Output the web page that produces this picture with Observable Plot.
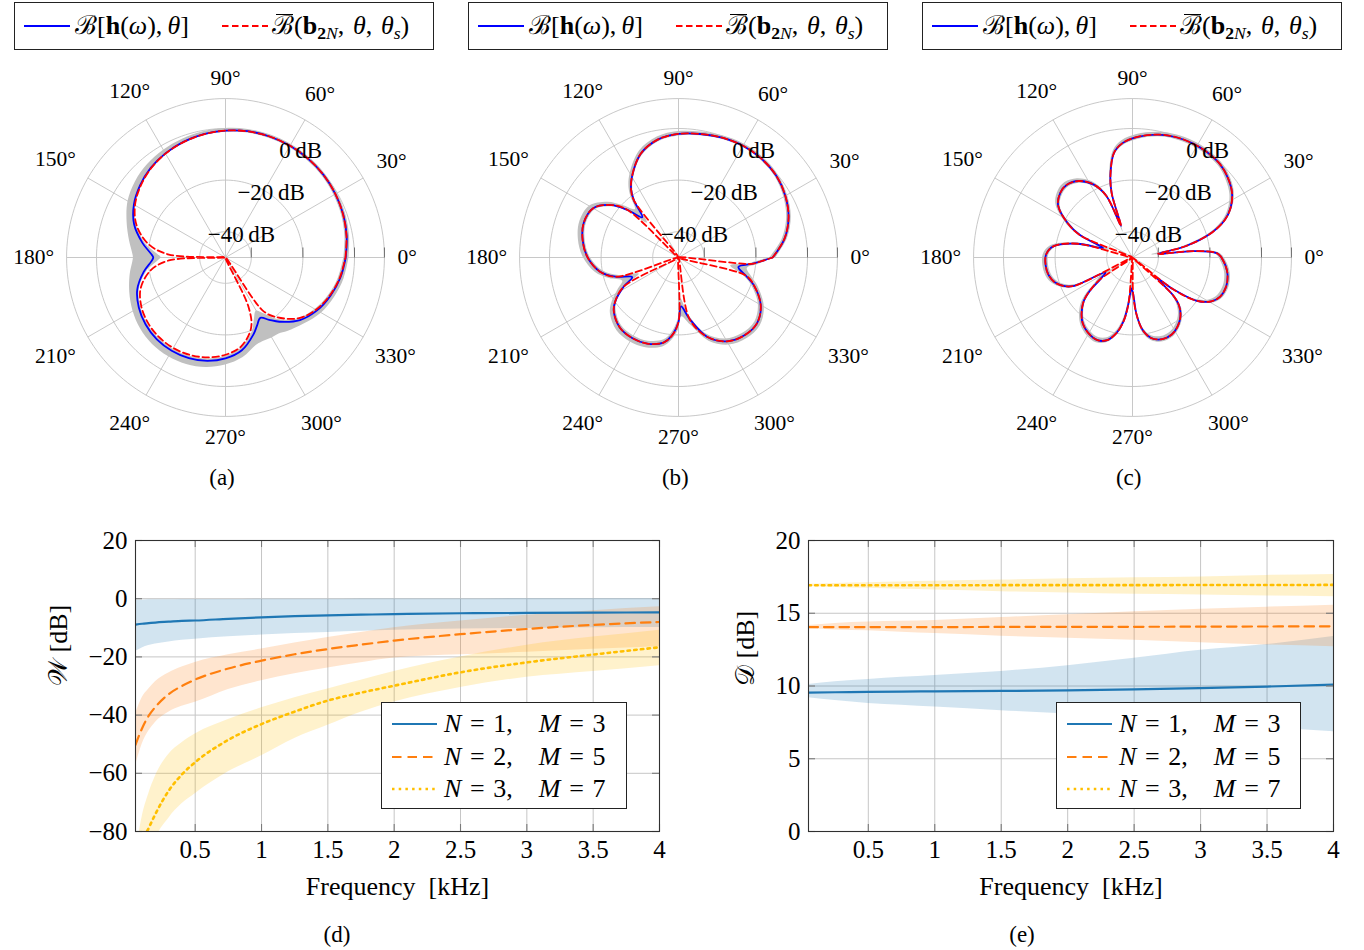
<!DOCTYPE html>
<html><head><meta charset="utf-8">
<script src="https://cdn.jsdelivr.net/npm/d3@7"></script>
<script src="https://cdn.jsdelivr.net/npm/@observablehq/plot@0.6"></script>
<style>
body{margin:0;background:#fff;}
#page{position:relative;width:1364px;height:950px;overflow:hidden;font-family:'Liberation Serif','Times New Roman',serif;color:#000;background:#fff;}
.leg{position:absolute;border:1.3px solid #222;background:#fff;box-sizing:border-box;}
.lt{position:absolute;font-size:26px;white-space:nowrap;line-height:26px;}
.cap{position:absolute;font-size:23px;line-height:26px;transform:translateX(-50%);white-space:nowrap;}
.bar{position:relative;display:inline-block;}
.bar::after{content:"";position:absolute;left:4px;right:1px;top:1px;border-top:1.4px solid #000;}
sub{font-size:0.68em;vertical-align:-0.28em;line-height:0;}
.smp{position:absolute;}
</style></head><body><div id="page"></div>
<script>
// ---------------- DATA ----------------
// Polar beampatterns (angle in degrees, level in dB)
const anglesA = [0,10,20,30,40,50,60,70,80,90,100,110,120,130,140,150,160,170,177,180,183,190,200,210,220,230,240,250,260,270,280,290,295,300,305,310,320,330,340,350];
const blueA = [-3.4,-2.3,-1.4,-0.8,-0.3,-0.1,0,-0.1,-0.3,-0.8, -1.4,-2.3,-3.4,-4.8,-6.7,-9.0,-12.3,-17.3,-21,-22, -21.2,-17.8,-13.6,-11.2,-9.6,-8.6,-8.3,-8.5,-9.3,-10.9, -13.5,-18.3,-21,-23,-20.5,-17.5,-12.3,-9.0,-6.7,-4.8];
const redA = [-3.5,-2.4,-1.5,-0.8,-0.35,-0.1,0,-0.1,-0.35,-0.8, -1.5,-2.4,-3.5,-5.0,-7.0,-9.5,-13.3,-19.6,-28,-50, -28,-20.4,-15.0,-12.3,-10.7,-9.8,-9.5,-9.8,-10.7,-12.3, -15.0,-21,-29,-50,-25,-20,-13.3,-9.5,-7.0,-5.0];
const hiA = [-2.1,-1.2,-0.5,0.0,0.4,0.6,0.7,0.6,0.4,0.0, -0.5,-1.2,-2.0,-3.0,-4.4,-6.4,-9.4,-12.2,-13.9,-14.3, -14.0,-12.5,-10.5,-8.6,-7.0,-6.0,-5.7,-5.9,-6.7,-8.3, -10.6,-14,-14.3,-14,-13.8,-12.5,-10,-7.0,-5.0,-3.3];
const loA = [-4.1,-3.0,-2.1,-1.5,-1.0,-0.8,-0.7,-0.8,-1.0,-1.5, -2.1,-3.0,-4.1,-5.5,-7.4,-9.8,-13.2,-18.5,-23.5,-25, -23.8,-19,-14.5,-12,-10.4,-9.4,-9.1,-9.3,-10.1,-11.7, -14.4,-19.5,-23.5,-26,-23,-18.6,-13.1,-9.8,-7.4,-5.5];

const anglesB = [0,10,20,30,40,50,60,70,80,90,100,110,120,125,128,132,137,142,150,160,170,180,190,197,203,208,215,220,230,240,250,260,265,270,273,280,290,300,310,320,330,340,345,351,355,357];
const blueB = [-13.5,-8.3,-4.6,-2.2,-0.6,0,0,-0.6,-1.4,-2.1, -3.6,-7.2,-13.9,-18,-22,-29,-23,-17,-11.8,-10.9, -12.3,-14.8,-19,-24.5,-30.5,-26,-20,-17.3,-14.6,-14.0, -14.5,-16.5,-19.5,-25,-31,-26,-17.2,-12.5,-10.5,-10.3, -13.2,-19.0,-23,-26.5,-21.5,-18.5];
const redB = [-13.5,-8.3,-4.6,-2.2,-0.6,0,0,-0.6,-1.4,-2.1, -3.6,-7.2,-13.9,-18,-22,-50,-23,-17,-11.8,-10.9, -12.3,-14.8,-19,-24.5,-50,-26,-20,-17.3,-14.6,-14.0, -14.5,-16.5,-19.5,-25,-50,-26,-17.2,-12.5,-10.5,-10.3, -13.2,-19.0,-23,-50,-21.5,-18.5];
const hiB = [-12.2,-7.1,-3.5,-1.3,0.2,0.8,0.8,0.2,-0.6,-1.2, -2.6,-6.0,-12.5,-16.5,-20,-25,-20.5,-15.2,-10.2,-9.3, -10.6,-13.1,-17.2,-22,-26.5,-23.5,-18.2,-15.6,-12.9,-12.3, -12.8,-14.8,-17.5,-22,-27,-23.5,-15.5,-10.8,-8.9,-8.7, -11.6,-17.2,-20.5,-23,-19,-16.8];
const loB = [-14.5,-9.2,-5.4,-2.9,-1.2,-0.6,-0.6,-1.2,-2.1,-2.9, -4.5,-8.2,-15,-19.3,-23.5,-32,-24.5,-18.2,-12.8,-11.9, -13.3,-15.8,-20.2,-26,-33.5,-27.5,-21.2,-18.4,-15.6,-15.0, -15.5,-17.6,-20.8,-26.5,-34,-27.5,-18.4,-13.5,-11.5,-11.3, -14.3,-20.3,-24.5,-29.5,-22.5,-19.8];

const anglesC = [0,3,6,8,12,17,22,27,33,40, 47,55,62,70,78,88,95,100,105,108, 110,113,118,125,132,138,145,152,157,162, 166,172,178,185,192,198,203,206,209,214, 218,222,228,233,240,247,253,258,262,265, 268,271,274,278,283,290,297,303,309,314, 317,320,322,326,331,336,343,350,355];
const blueC = [-15.5,-17.3,-26,-40,-29,-18.5,-11.5,-7.3,-4.0,-1.8, -0.4,0,0,-0.4,-1.3,-3.3,-5.5,-8.8,-17,-24, -37,-24,-18,-13.8,-12,-12.4,-14.8,-21.5,-28,-38, -28,-19,-16.5,-16.2,-16.8,-18.5,-21.5,-25,-38,-35, -29,-24.5,-20.5,-18,-16,-15.2,-16.5,-20,-25,-32, -38,-36,-28,-21.6,-18,-16.3,-16.5,-18,-20.5,-24, -28.5,-38,-30,-20,-15,-12.8,-12,-12.6,-13.8];
const redC = [-15.5,-17.3,-26,-40,-29,-18.5,-11.5,-7.3,-4.0,-1.8, -0.4,0,0,-0.4,-1.3,-3.3,-5.5,-8.8,-17,-24, -37,-24,-18,-13.8,-12,-12.4,-14.8,-21.5,-28,-50, -28,-19,-16.5,-16.2,-16.8,-18.5,-21.5,-25,-50,-35, -29,-24.5,-20.5,-18,-16,-15.2,-16.5,-20,-25,-32, -50,-36,-28,-21.6,-18,-16.3,-16.5,-18,-20.5,-24, -28.5,-50,-30,-20,-15,-12.8,-12,-12.6,-13.8];
const hiC = [-14.5,-16.3,-24.5,-37.5,-27.5,-17.5,-10.5,-6.3,-3.0,-0.8, 0.5,0.9,0.9,0.5,-0.4,-2.3,-4.5,-7.8,-15.8,-22.5, -34.5,-22.5,-16.8,-12.7,-10.9,-11.3,-13.7,-20.2,-26.5,-35.5, -26.5,-17.8,-15.4,-15.1,-15.7,-17.4,-20.3,-23.5,-35.5,-33, -27.5,-23.2,-19.3,-16.9,-14.9,-14.1,-15.4,-18.8,-23.5,-30, -35.5,-34,-26.5,-20.4,-16.9,-15.2,-15.4,-16.9,-19.3,-22.5, -27,-35.5,-28.5,-18.8,-13.9,-11.7,-10.9,-11.5,-12.7];
const loC = [-16.5,-18.3,-27.5,-42.5,-30.5,-19.5,-12.5,-8.3,-5.0,-2.8, -1.3,-0.9,-0.9,-1.3,-2.2,-4.3,-6.5,-9.8,-18.2,-25.5, -39.5,-25.5,-19.2,-14.9,-13.1,-13.5,-15.9,-22.8,-29.5,-40.5, -29.5,-20.2,-17.6,-17.3,-17.9,-19.6,-22.7,-26.5,-40.5,-37, -30.5,-25.8,-21.7,-19.1,-17.1,-16.3,-17.6,-21.2,-26.5,-34, -40.5,-38,-29.5,-22.8,-19.1,-17.4,-17.6,-19.1,-21.7,-25.5, -30,-40.5,-31.5,-21.2,-16.1,-13.9,-13.1,-13.7,-14.9];

const polarRingLevels = [-40, -20, 0];
const polarRingLabels = ["\u221240\u2009dB", "\u221220\u2009dB", "0\u2009dB"];
const polarOuterLevel = 11.6;
const polarAngleTicks = [0,30,60,90,120,150,180,210,240,270,300,330];

// (d) White-noise gain W [dB] vs frequency [kHz]
const freqD = [0.05,0.1,0.15,0.2,0.3,0.4,0.5,0.75,1,1.25,1.5,1.75,2,2.5,3,3.5,4];
const wN1 = [-8.9,-8.6,-8.4,-8.2,-7.9,-7.6,-7.5,-6.9,-6.4,-6.0,-5.7,-5.5,-5.3,-5.0,-4.9,-4.8,-4.7];
const wN1lo = [-18.1,-16.9,-16.1,-15.6,-14.9,-14.3,-13.9,-13.1,-12.5,-12.0,-11.6,-11.2,-10.8,-10.4,-10.2,-10.0,-9.9];
const wN1hi = [-0.5,-0.5,-0.4,-0.4,-0.4,-0.3,-0.3,-0.3,-0.2,-0.2,-0.2,-0.1,-0.1,-0.1,0,0,0];
const wN2 = [-50.2,-44.5,-40.2,-37.2,-32.8,-30,-27.8,-24,-21.3,-19.1,-17.3,-15.8,-14.4,-12.2,-10.4,-9.0,-8.0];
const wN2lo = [-57.4,-50,-45.5,-42.5,-39,-37,-35.6,-31.2,-28.2,-25.8,-23.8,-22,-20.4,-19.3,-18.4,-17.4,-16.5];
const wN2hi = [-39.6,-34,-31,-28.5,-25.5,-23.5,-21.9,-19.3,-17.3,-15.2,-13.3,-11.6,-10.0,-7.7,-5.7,-4.1,-2.8];
const wN3 = [-100,-84,-78.8,-74,-66,-60.4,-56.2,-48.5,-43.1,-38.8,-35,-32.3,-29.9,-25.3,-21.9,-19.2,-16.7];
const wN3lo = [-112,-100,-91,-83,-75.5,-70.5,-67,-59.5,-54,-48,-43.5,-39,-35.5,-30.5,-27,-25,-23];
const wN3hi = [-88,-75,-67,-61,-53.5,-49.5,-46.5,-41.5,-37.5,-34,-31,-28,-25,-20,-16,-13.2,-10.8];

// (e) Directivity D [dB] vs frequency [kHz]
const freqE = [0.05,0.25,0.5,0.75,1,1.5,2,2.5,3,3.5,4];
const dN1 = [9.55,9.57,9.6,9.62,9.63,9.66,9.7,9.77,9.86,9.96,10.1];
const dN1lo = [9.2,9.0,8.8,8.67,8.55,8.3,8.08,7.8,7.5,7.15,6.85];
const dN1hi = [10.1,10.3,10.45,10.6,10.73,11.0,11.4,11.9,12.45,12.85,13.4];
const dN2 = [14.05,14.05,14.05,14.05,14.05,14.06,14.07,14.07,14.08,14.09,14.1];
const dN2lo = [13.95,13.85,13.8,13.7,13.6,13.42,13.28,13.15,12.97,12.82,12.7];
const dN2hi = [14.15,14.3,14.4,14.45,14.5,14.7,14.9,15.1,15.28,15.42,15.55];
const dN3 = [16.92,16.92,16.92,16.92,16.92,16.93,16.93,16.93,16.94,16.94,16.95];
const dN3lo = [16.83,16.77,16.71,16.65,16.6,16.48,16.39,16.3,16.26,16.19,16.14];
const dN3hi = [16.99,17.05,17.1,17.15,17.2,17.28,17.37,17.44,17.5,17.6,17.67];

const freqTicks = [0.5,1,1.5,2,2.5,3,3.5,4];
const wTicks = [-80,-60,-40,-20,0,20];
const dTicks = [0,5,10,15,20];
const seriesNames = ["N = 1,  M = 3", "N = 2,  M = 5", "N = 3,  M = 7"];

// ---------------- DRAWING ----------------
const FONT = "'Liberation Serif','Times New Roman',serif";
const page = document.getElementById("page");
function place(node, left, top) {
  const d = document.createElement("div");
  d.style.cssText = `position:absolute;left:${left}px;top:${top}px;`;
  d.appendChild(node);
  page.appendChild(d);
  return d;
}
function html(str) { const d = document.createElement("div"); d.innerHTML = str; page.appendChild(d); }

const K = 2.58;                 // px per dB on polar axes
const RMAX = polarOuterLevel + 50;
const rad = a => a * Math.PI / 180;
const circ = d3.range(0, 360.1, 2);

function angleLabelPos(a) {
  const t = rad(a), c = Math.cos(t), s = Math.sin(t);
  const w = String(a).length * 10.3 + 13, h = 19;
  const dist = RMAX * K + 4 + (w / 2 + 7) * Math.abs(c) + (h / 2 + 7) * Math.abs(s);
  return [dist * c / K, dist * s / K];
}

function polar(angles, blue, red, lo, hi) {
  const rows = angles.map((a, i) => ({a, b: blue[i], r: red[i], lo: lo[i], hi: hi[i]}));
  rows.push({...rows[0], a: rows[0].a + 360});
  const X = (a, v) => Math.max(0, v + 50) * Math.cos(rad(a));
  const Y = (a, v) => Math.max(0, v + 50) * Math.sin(rad(a));
  const rings = [...polarRingLevels.map(l => l + 50), RMAX];
  const grid = "#c2c2c2";
  return Plot.plot({
    width: 440, height: 400, margin: 0,
    style: {fontFamily: FONT, background: "transparent", color: "#000", overflow: "visible"},
    x: {domain: [-220 / K, 220 / K], axis: null},
    y: {domain: [-200 / K, 200 / K], axis: null},
    marks: [
      ...rings.map(rr => Plot.line(circ, {x: t => rr * Math.cos(rad(t)), y: t => rr * Math.sin(rad(t)), stroke: grid, strokeWidth: 0.9})),
      Plot.link(polarAngleTicks, {x1: () => 0, y1: () => 0, x2: t => RMAX * Math.cos(rad(t)), y2: t => RMAX * Math.sin(rad(t)), stroke: grid, strokeWidth: 0.9}),
      Plot.link(rings, {x1: d => d, y1: () => 0, x2: d => d, y2: () => 10 / K, stroke: "#6e6e6e", strokeWidth: 1}),
      Plot.area(rows, {x1: d => X(d.a, d.lo), y1: d => Y(d.a, d.lo), x2: d => X(d.a, d.hi), y2: d => Y(d.a, d.hi), fill: "#c0c0c0", curve: "catmull-rom"}),
      Plot.line(rows, {x: d => X(d.a, d.b), y: d => Y(d.a, d.b), stroke: "#0000ff", strokeWidth: 1.8, curve: "catmull-rom"}),
      Plot.line(rows, {x: d => X(d.a, d.r), y: d => Y(d.a, d.r), stroke: "#ff0000", strokeWidth: 1.8, strokeDasharray: "6.5,3.5", curve: "catmull-rom"}),
      Plot.text(polarRingLevels, {x: l => (l + 50.8) * Math.cos(rad(55)), y: l => (l + 50.8) * Math.sin(rad(55)), text: (l, i) => polarRingLabels[i], fontSize: 23, fontFamily: FONT}),
      Plot.text(polarAngleTicks, {x: a => angleLabelPos(a)[0], y: a => angleLabelPos(a)[1], text: a => a + "\u00b0", fontSize: 21.5, fontFamily: FONT})
    ]
  });
}

const polarCenters = [[225, 257.3], [678.3, 257.3], [1131.7, 257.3]];
const polarData = [[anglesA, blueA, redA, loA, hiA], [anglesB, blueB, redB, loB, hiB], [anglesC, blueC, redC, loC, hiC]];
const captions = ["(a)", "(b)", "(c)"];
const legendLefts = [14, 468, 922];
polarData.forEach((p, i) => {
  const [cx, cy] = polarCenters[i];
  place(polar(...p), cx - 220, cy - 200);
  const L = legendLefts[i];
  html(`<div class="leg" style="left:${L}px;top:2px;width:420px;height:48px;">
    <svg class="smp" style="left:9px;top:19px" width="46" height="8"><line x1="0" y1="4" x2="46" y2="4" stroke="#0000ff" stroke-width="1.8"/></svg>
    <div class="lt" style="left:60px;top:10px;"><span class="cal">\u212C</span>[<b>h</b>(<i>\u03c9</i>),\u2009<i>\u03b8</i>]</div>
    <svg class="smp" style="left:207px;top:19px" width="46" height="8"><line x1="0" y1="4" x2="46" y2="4" stroke="#ff0000" stroke-width="1.8" stroke-dasharray="6.5,3.5"/></svg>
    <div class="lt" style="left:257px;top:10px;"><span class="bar">\u212C</span>(<b>b</b><sub><b>2</b><i>N</i></sub>,\u2004<i>\u03b8</i>,\u2004<i>\u03b8</i><sub><i>s</i></sub>)</div>
  </div>`);
  html(`<div class="cap" style="left:${cx - 3}px;top:465px;">${captions[i]}</div>`);
});

const fmt = d => d < 0 ? "\u2212" + Math.abs(d) : String(d);
const colors = ["#1f77b4", "#ff7f0e", "#ffbf00"];
const dashes = [null, "9.5,6", "2.5,4.2"];
const widths = [2.2, 2.2, 2.6];

function linePlot({freq, lines, los, his, yDomain, yTicks, ylabel, width, ml, mr, labelDx}) {
  const x0 = 0.05, x1 = 4;
  const tickX = 7 / ((width - ml - mr) / (x1 - x0));
  const tickY = 7 / (291 / (yDomain[1] - yDomain[0]));
  const marks = [
    Plot.gridX(freqTicks, {stroke: "#c6c6c6", strokeOpacity: 1, strokeWidth: 1}),
    Plot.gridY(yTicks, {stroke: "#c6c6c6", strokeOpacity: 1, strokeWidth: 1})
  ];
  lines.forEach((ln, k) => {
    marks.push(Plot.areaY(freq, {x: d => d, y1: (d, i) => los[k][i], y2: (d, i) => his[k][i], fill: colors[k], fillOpacity: 0.2, curve: "monotone-x", clip: true}));
  });
  lines.forEach((ln, k) => {
    marks.push(Plot.lineY(freq, {x: d => d, y: (d, i) => ln[i], stroke: colors[k], strokeWidth: widths[k], strokeDasharray: dashes[k] || undefined, curve: "monotone-x", clip: true}));
  });
  marks.push(
    Plot.ruleY(yTicks, {y: d => d, x1: () => x0, x2: () => x0 + tickX, stroke: "#7a7a7a", strokeWidth: 1.1}),
    Plot.ruleY(yTicks, {y: d => d, x1: () => x1 - tickX, x2: () => x1, stroke: "#7a7a7a", strokeWidth: 1.1}),
    Plot.ruleX(freqTicks, {x: d => d, y1: () => yDomain[0], y2: () => yDomain[0] + tickY, stroke: "#7a7a7a", strokeWidth: 1.1}),
    Plot.ruleX(freqTicks, {x: d => d, y1: () => yDomain[1] - tickY, y2: () => yDomain[1], stroke: "#7a7a7a", strokeWidth: 1.1}),
    Plot.frame({stroke: "#303030", strokeWidth: 1.1}),
    Plot.axisX(freqTicks, {tickSize: 0, tickPadding: 9, tickFormat: fmt, fontSize: 25, fontFamily: FONT, label: null}),
    Plot.axisY(yTicks, {tickSize: 0, tickPadding: 8, tickFormat: fmt, fontSize: 25, fontFamily: FONT, label: null}),
    Plot.text(["Frequency\u2002[kHz]"], {frameAnchor: "bottom", dy: 63, fontSize: 26, fontFamily: FONT}),
    Plot.text([ylabel], {frameAnchor: "left", dx: labelDx, rotate: -90, fontSize: 26, fontFamily: FONT})
  );
  return Plot.plot({
    width, height: 400, marginLeft: ml, marginRight: mr, marginTop: 20, marginBottom: 89,
    style: {fontFamily: FONT, fontSize: "25px", background: "transparent", color: "#000", overflow: "visible"},
    x: {domain: [x0, x1]},
    y: {domain: yDomain},
    marks
  });
}

place(linePlot({freq: freqD, lines: [wN1, wN2, wN3], los: [wN1lo, wN2lo, wN3lo], his: [wN1hi, wN2hi, wN3hi],
  yDomain: [-80, 20], yTicks: wTicks, ylabel: "\uD835\uDCB2 [dB]", width: 680, ml: 135, mr: 21, labelDx: -77}), 0, 520);
place(linePlot({freq: freqE, lines: [dN1, dN2, dN3], los: [dN1lo, dN2lo, dN3lo], his: [dN1hi, dN2hi, dN3hi],
  yDomain: [0, 20], yTicks: dTicks, ylabel: "\uD835\uDC9F [dB]", width: 660, ml: 108, mr: 27, labelDx: -63}), 700, 520);

function seriesHTML(name) {
  const [a, b] = name.split(",");
  const p = s => s.trim().split("=").map(t => t.trim());
  const [n1, v1] = p(a), [n2, v2] = p(b);
  return `<i>${n1}</i>\u2004=\u2004${v1},\u2003<i>${n2}</i>\u2004=\u2004${v2}`;
}
[[381, 246], [1056, 245]].forEach(([L, W]) => {
  let inner = "";
  [21, 54, 86].forEach((cy, k) => {
    const dash = dashes[k] ? `stroke-dasharray="${dashes[k]}"` : "";
    inner += `<svg class="smp" style="left:10px;top:${cy - 4}px" width="45" height="8"><line x1="0" y1="4" x2="45" y2="4" stroke="${colors[k]}" stroke-width="${widths[k]}" ${dash}/></svg>`;
    inner += `<div class="lt" style="left:62px;top:${cy - 13}px;">${seriesHTML(seriesNames[k])}</div>`;
  });
  html(`<div class="leg" style="left:${L}px;top:702px;width:${W}px;height:107px;">${inner}</div>`);
});
html(`<div class="cap" style="left:337px;top:922px;">(d)</div>`);
html(`<div class="cap" style="left:1022px;top:922px;">(e)</div>`);
</script></body></html>
